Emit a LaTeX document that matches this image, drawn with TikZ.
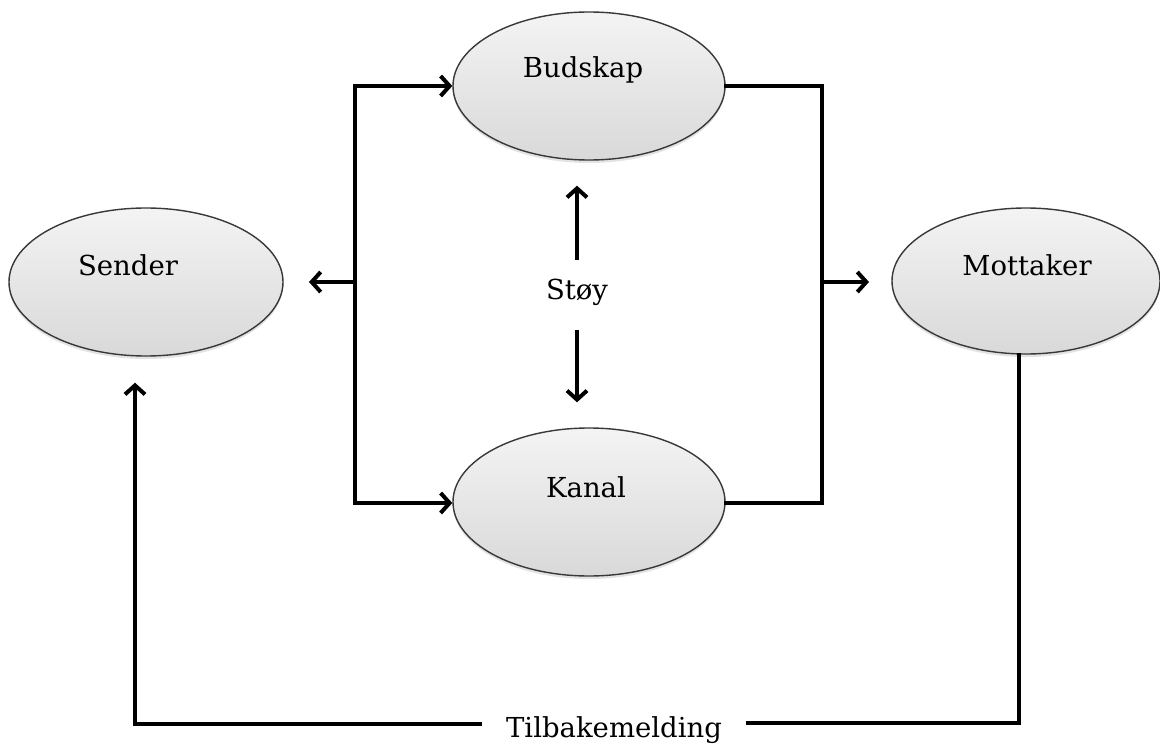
\documentclass[tikz,border=0pt]{standalone}
\usepackage{fontspec}
\setmainfont{DejaVu Serif}
\usetikzlibrary{arrows.meta,shapes.geometric,shadows}
\begin{document}
\begin{tikzpicture}[x=1pt,y=-1pt,
  bubble/.style={ellipse, draw=black!78, line width=1.4pt, inner sep=0pt,
    top color=gray!9, bottom color=gray!30,
    drop shadow={shadow xshift=0pt, shadow yshift=-3pt, opacity=0.22}},
  wire/.style={line width=4.2pt, draw=black, line cap=rect, line join=miter},
  arr/.style={wire, -{Straight Barb[length=9pt,width=20pt,line width=4pt]}},
  txt/.style={font=\fontsize{27.5}{32}\selectfont, text=black}
]
\useasboundingbox (0,0) rectangle (1160,749);
\fill[white] (0,0) rectangle (1160,749);

\node[bubble, minimum width=274pt, minimum height=148pt,
  label={[txt, xshift=-18pt, yshift=17pt]center:Sender}] (sender) at (146,282) {};
\node[bubble, minimum width=272pt, minimum height=148pt,
  label={[txt, xshift=-6pt, yshift=16pt]center:Budskap}] (budskap) at (589,86) {};
\node[bubble, minimum width=272pt, minimum height=148pt,
  label={[txt, xshift=-3pt, yshift=15pt]center:Kanal}] (kanal) at (589,502) {};
\node[bubble, minimum width=268pt, minimum height=146pt,
  label={[txt, xshift=1pt, yshift=16pt]center:Mottaker}] (mottaker) at (1026,281) {};

\node[txt] (stoy) at (577,292) {Støy};
\node[txt, inner xsep=26pt] (fb) at (614,730) {Tilbakemelding};

\coordinate (lbT) at (355,86);
\coordinate (lbM) at (355,282);
\coordinate (lbB) at (355,503);
\coordinate (rbT) at (822,86);
\coordinate (rbM) at (822,282);
\coordinate (rbB) at (822,503);
\coordinate (senderin) at (309,282);
\coordinate (mottakerin) at (869,282);
\coordinate (fbR) at (1019,723);
\coordinate (fbL) at (135,724);

% left bus
\draw[wire] (lbT) -- (lbB);
\draw[arr] (lbT) -- (budskap.west);
\draw[arr] (lbB) -- (kanal.west |- lbB);
\draw[arr] (lbM) -- (senderin);

% right bus
\draw[wire] (budskap.east) -- (rbT) -- (rbB) -- (kanal.east |- rbB);
\draw[arr] (rbM) -- (mottakerin);

% noise
\draw[arr, shorten <=34pt, shorten >=25pt] (stoy.center) -- (stoy.center |- budskap.south);
\draw[arr, shorten <=40pt, shorten >=25pt] (stoy.center) -- (stoy.center |- kanal.north);

% feedback
\draw[wire] (fbR |- mottaker.south) -- (fbR) -- (fb.east |- fbR);
\draw[arr, shorten >=26pt] (fb.west |- fbL) -- (fbL) -- (fbL |- sender.south);
\end{tikzpicture}
\end{document}
